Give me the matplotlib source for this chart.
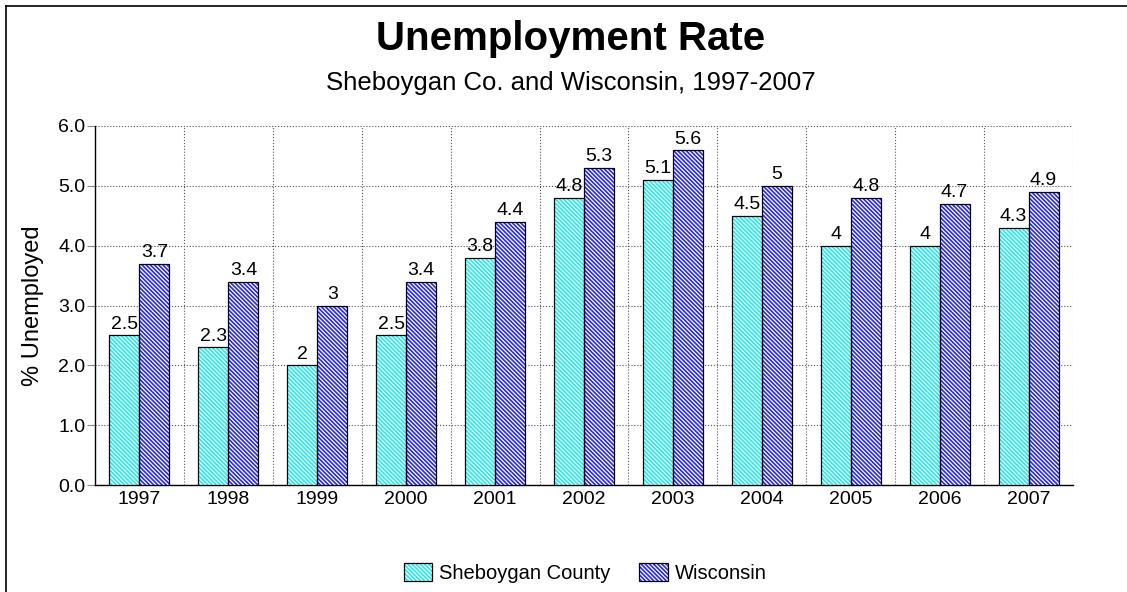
import matplotlib.pyplot as plt
import numpy as np
from matplotlib.lines import Line2D
from matplotlib.patches import Patch
from matplotlib.legend_handler import HandlerTuple

plt.rcParams['font.family'] = ['Liberation Sans', 'DejaVu Sans']
plt.rcParams['hatch.linewidth'] = 0.9

years = ['1997', '1998', '1999', '2000', '2001', '2002', '2003', '2004', '2005', '2006', '2007']
sheboygan = [2.5, 2.3, 2.0, 2.5, 3.8, 4.8, 5.1, 4.5, 4.0, 4.0, 4.3]
wisconsin = [3.7, 3.4, 3.0, 3.4, 4.4, 5.3, 5.6, 5.0, 4.8, 4.7, 4.9]
sheb_labels = ['2.5', '2.3', '2', '2.5', '3.8', '4.8', '5.1', '4.5', '4', '4', '4.3']
wisc_labels = ['3.7', '3.4', '3', '3.4', '4.4', '5.3', '5.6', '5', '4.8', '4.7', '4.9']

CYAN = '#22ecec'
BLUE = '#2a2aee'
HATCH = '\\' * 8

fig = plt.figure(figsize=(11.27, 5.92), dpi=100)
ax = fig.add_axes([95 / 1127, 1 - 485 / 592, 978 / 1127, 359 / 592])

x = np.arange(len(years))
w = 0.337

for vals, off, col, lab in [(sheboygan, -w / 2, CYAN, sheb_labels),
                            (wisconsin, w / 2, BLUE, wisc_labels)]:
    ax.bar(x + off, vals, w, color=col, edgecolor='white', hatch=HATCH, linewidth=0, zorder=3)
    ax.bar(x + off, vals, w, facecolor='none', edgecolor='black', linewidth=0.9, zorder=4)
    for xi, v, t in zip(x + off, vals, lab):
        ax.text(xi, v + 0.04, t, ha='center', va='bottom', fontsize=14, zorder=5)

ax.set_xlim(-0.5, len(years) - 0.5)
ax.set_ylim(0, 6.0)
ax.set_yticks(np.arange(0, 6.01, 1.0))
ax.set_yticklabels([f'{v:.1f}' for v in np.arange(0, 6.01, 1.0)], fontsize=14)
ax.set_xticks(x)
ax.set_xticklabels(years, fontsize=14)
ax.set_xticks(np.arange(0.5, len(years) - 0.5, 1.0), minor=True)
ax.tick_params(axis='x', which='major', length=0, pad=4)
ax.tick_params(axis='x', which='minor', length=0)
ax.tick_params(axis='y', length=6, color='#888888', pad=1)
ax.grid(axis='y', which='major', linestyle=':', color='#555555', linewidth=0.8, zorder=0)
ax.grid(axis='x', which='minor', linestyle=':', color='#555555', linewidth=0.8, zorder=0)
ax.axvline(len(years) - 0.5, linestyle=':', color='#555555', linewidth=0.8, zorder=0)
for s in ['top', 'right']:
    ax.spines[s].set_visible(False)
ax.spines['left'].set_linewidth(1.0)
ax.spines['bottom'].set_linewidth(1.0)
ax.set_ylabel('% Unemployed', fontsize=17, labelpad=10)

fig.text(571 / 1127, 1 - 39 / 592, 'Unemployment Rate', ha='center', va='center',
         fontsize=29, fontweight='bold')
fig.text(571 / 1127, 1 - 83 / 592, 'Sheboygan Co. and Wisconsin, 1997-2007', ha='center',
         va='center', fontsize=18.5)

handles = []
for col in [CYAN, BLUE]:
    handles.append((Patch(facecolor=col, edgecolor='white', hatch=HATCH, linewidth=0),
                    Patch(facecolor='none', edgecolor='black', linewidth=0.9)))
fig.legend(handles, ['Sheboygan County', 'Wisconsin'], loc='center',
           bbox_to_anchor=(585 / 1127, 1 - 573 / 592), ncol=2, frameon=False, fontsize=14.5,
           handlelength=1.4, handleheight=1.0, columnspacing=1.45, handletextpad=0.35,
           handler_map={tuple: HandlerTuple(ndivide=1)})

fig.add_artist(Line2D([6 / 1127, 6 / 1127], [0, 1 - 6 / 592], color='black', linewidth=1.2))
fig.add_artist(Line2D([6 / 1127, 1], [1 - 6 / 592, 1 - 6 / 592], color='black', linewidth=1.2))

fig.savefig('out.png', dpi=100)
